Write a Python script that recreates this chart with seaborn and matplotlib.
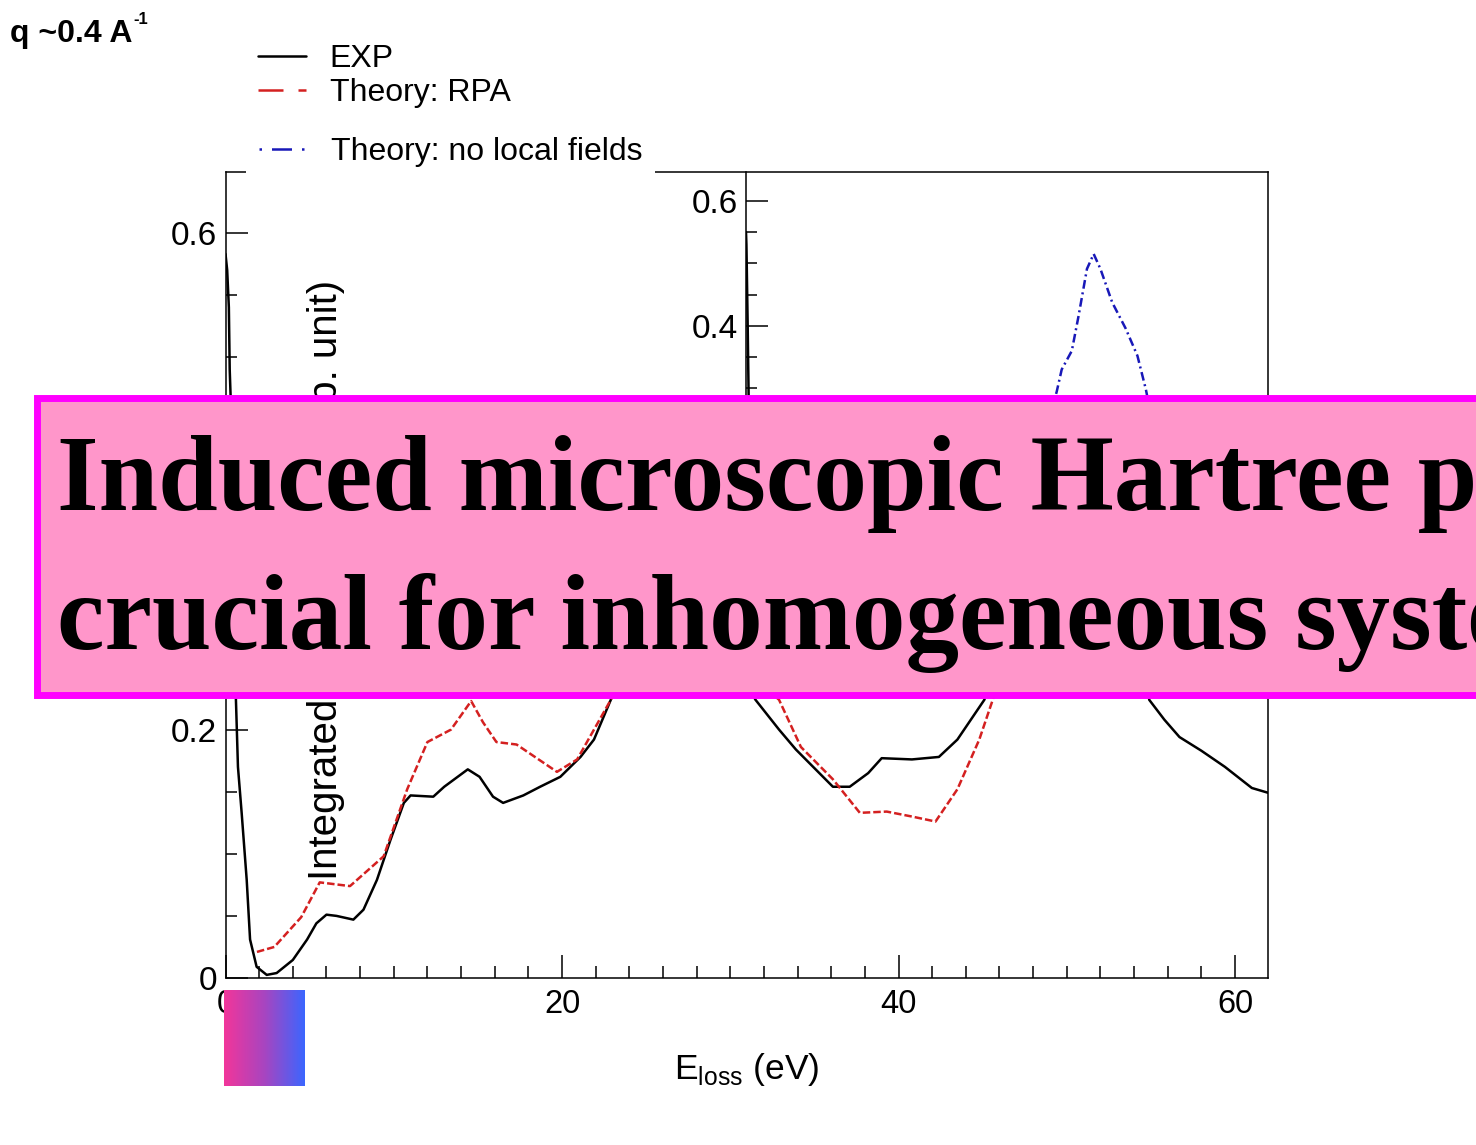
import numpy as np
import pandas as pd
import matplotlib
matplotlib.use("Agg")
import matplotlib.pyplot as plt
import seaborn as sns
from matplotlib.lines import Line2D
from matplotlib.patches import Rectangle
from matplotlib.ticker import MultipleLocator
from matplotlib.colors import LinearSegmentedColormap

# ---- data (E_loss in eV, intensity in arb. units) ----
exp_x = [0.0, 0.1, 0.2, 0.25, 0.3, 0.45, 0.62, 0.74, 0.96, 1.26, 1.46, 1.85, 2.45, 3.04,
         4.0, 4.85, 5.4, 6.0, 6.6, 7.6, 8.2, 9.0, 9.8, 10.6, 11.0, 12.35, 13.0, 14.4,
         15.1, 15.9, 16.5, 17.7, 18.7, 19.9, 21.1, 21.9, 22.9, 24.0, 25.5, 27.0, 28.5,
         30.0, 31.5, 32.9, 33.9, 36.1, 37.1, 38.2, 39.0, 40.8, 42.4, 43.5, 44.3, 45.1,
         46.5, 48.0, 50.0, 52.0, 53.5, 54.5, 54.9, 55.8, 56.7, 58.0, 59.4, 61.0, 62.0]
exp_y = [0.583, 0.57, 0.54, 0.49, 0.47, 0.30, 0.224, 0.17, 0.133, 0.079, 0.031, 0.009, 0.0025, 0.004,
         0.0145, 0.031, 0.044, 0.051, 0.05, 0.047, 0.055, 0.079, 0.111, 0.141, 0.147, 0.146, 0.154, 0.168,
         0.162, 0.146, 0.141, 0.147, 0.154, 0.162, 0.178, 0.192, 0.224, 0.27, 0.31, 0.33, 0.30,
         0.26, 0.224, 0.20, 0.184, 0.154, 0.154, 0.165, 0.177, 0.176, 0.178, 0.192, 0.208, 0.224,
         0.28, 0.34, 0.40, 0.42, 0.38, 0.30, 0.224, 0.208, 0.194, 0.183, 0.170, 0.153, 0.149]

rpa_x = [1.87, 2.9, 4.5, 5.6, 7.4, 9.4, 10.8, 12.0, 13.4, 14.6, 15.3, 16.1, 17.3, 19.7,
         20.9, 22.9, 24.5, 26.0, 27.5, 29.0, 30.5, 32.0, 32.9, 34.2, 36.1, 37.7, 39.3,
         40.8, 42.2, 43.5, 44.8, 45.6, 47.0, 48.5, 49.5]
rpa_y = [0.021, 0.025, 0.049, 0.077, 0.074, 0.098, 0.152, 0.19, 0.20, 0.223, 0.206, 0.19, 0.188, 0.166,
         0.176, 0.224, 0.27, 0.30, 0.31, 0.29, 0.26, 0.235, 0.224, 0.186, 0.160, 0.133, 0.134,
         0.130, 0.126, 0.152, 0.192, 0.224, 0.30, 0.36, 0.38]

nlf_x = [46.0, 47.5, 48.5, 49.4, 49.7, 50.3, 50.7, 51.2, 51.6, 52.0, 52.7, 53.5, 54.2, 54.7, 55.5, 56.5]
nlf_y = [0.30, 0.38, 0.43, 0.472, 0.49, 0.505, 0.533, 0.571, 0.583, 0.571, 0.544, 0.523, 0.501, 0.474, 0.42, 0.33]

# small overlaid copy of the panel (only its left edge shows)
inset_x = [0.0, 0.05, 0.12, 0.2, 0.3, 0.45]
inset_y = [0.55, 0.53, 0.47, 0.40, 0.30, 0.15]

legend_labels = ["EXP", "Theory: RPA", "Theory: no local fields"]
x_ticks = [0, 20, 40, 60]
y_ticks = [0, 0.2, 0.4, 0.6]
main_ylabels = ["0", "0.2", "", "0.6"]      # 0.4 sits under the call-out box
inset_ylabels = ["", "", "0.4", "0.6"]      # lower labels sit under the box

sns.set_theme(style="ticks")
plt.rcParams["font.family"] = ["Liberation Sans", "DejaVu Sans"]
plt.rcParams["axes.edgecolor"] = "black"
plt.rcParams["xtick.color"] = "black"
plt.rcParams["ytick.color"] = "black"
plt.rcParams["text.color"] = "black"
plt.rcParams["axes.labelcolor"] = "black"

W, H = 1476, 1145
fig = plt.figure(figsize=(W / 100, H / 100), dpi=100)
fig.patch.set_facecolor("white")

def fx(px):
    return px / W

def fy(py):
    return (H - py) / H

ax = fig.add_axes([fx(225.5), fy(978), fx(1268) - fx(225.5), fy(172) - fy(978)])
ax.set_facecolor("white")

sns.lineplot(x=exp_x, y=exp_y, ax=ax, color="black", linewidth=1.8, sort=False, estimator=None)
sns.lineplot(x=rpa_x, y=rpa_y, ax=ax, color="#D42020", linewidth=1.8, sort=False, estimator=None,
             linestyle=(0, (3, 1.2)))
sns.lineplot(x=nlf_x, y=nlf_y, ax=ax, color="#1818B8", linewidth=1.8, sort=False, estimator=None,
             linestyle=(0, (3.5, 1.5, 0.8, 1.5)))

ax.set_xlim(0, 61.96)
ax.set_ylim(0, 0.649)
ax.set_xticks(x_ticks)
ax.set_yticks(y_ticks)
ax.set_yticklabels(main_ylabels)
ax.xaxis.set_minor_locator(MultipleLocator(2))
ax.yaxis.set_minor_locator(MultipleLocator(0.05))
ax.tick_params(which="both", direction="in", top=False, right=False, width=1.1)
ax.tick_params(axis="y", which="major", length=16, labelsize=24, pad=6)
ax.tick_params(axis="y", which="minor", length=8)
ax.tick_params(axis="x", which="major", length=16.5, labelsize=23.5, pad=8)
ax.tick_params(axis="x", which="minor", length=8.5)
for s in ax.spines.values():
    s.set_linewidth(1.1)
    s.set_color("black")

ax.set_xlabel(r"E$_{\mathregular{loss}}$ (eV)", fontsize=25.5, labelpad=22)
ax.set_ylabel("Integrated loss function (arb. unit)", fontsize=29)
ax.yaxis.set_label_coords(0.1146, 0.494)

# legend in two blocks, as in the figure
h_exp = Line2D([], [], color="black", linewidth=1.8)
h_rpa = Line2D([], [], color="#D42020", linewidth=1.8, linestyle=(0, (10, 6)))
h_nlf = Line2D([], [], color="#1818B8", linewidth=1.8, linestyle=(0, (1, 4, 8, 4)))
leg1 = ax.legend([h_exp, h_rpa], legend_labels[:2], loc="center left",
                 bbox_to_anchor=(fx(258), fy(76)), bbox_transform=fig.transFigure,
                 frameon=False, fontsize=23, handlelength=1.5, handletextpad=0.75,
                 labelspacing=0.14, borderpad=0, borderaxespad=0)
ax.add_artist(leg1)
leg2 = ax.legend([h_nlf], legend_labels[2:], loc="center left",
                 bbox_to_anchor=(fx(246), fy(152)), bbox_transform=fig.transFigure,
                 frameon=True, fancybox=False, framealpha=1, facecolor="white",
                 edgecolor="none", fontsize=23, handlelength=1.5, handletextpad=0.75,
                 borderpad=0.4, borderaxespad=0)

# second, overlaid y axis
ax2 = fig.add_axes([fx(746), fy(576), fx(1268) - fx(746), fy(172) - fy(576)])
ax2.patch.set_alpha(0)
sns.lineplot(x=inset_x, y=inset_y, ax=ax2, color="black", linewidth=1.8, sort=False, estimator=None)
ax2.set_xlim(0, 62)
ax2.set_ylim(0, 0.646)
for k in ["top", "right", "bottom"]:
    ax2.spines[k].set_visible(False)
ax2.spines["left"].set_linewidth(1.1)
ax2.spines["left"].set_color("black")
ax2.set_xticks([])
ax2.set_yticks(y_ticks)
ax2.set_yticklabels(inset_ylabels)
ax2.yaxis.set_minor_locator(MultipleLocator(0.05))
ax2.tick_params(which="both", direction="in", width=1.1)
ax2.tick_params(axis="y", which="major", length=16, labelsize=24, pad=6)
ax2.tick_params(axis="y", which="minor", length=8)
ax2.set_xlabel("")
ax2.set_ylabel("")

# momentum transfer label
fig.text(fx(10), fy(42), "q ~0.4 A", fontsize=23, fontweight="bold", va="baseline", ha="left")
fig.text(fx(133), fy(24), "-1", fontsize=12, fontweight="bold", va="baseline", ha="left")

# pink call-out box
box = Rectangle((fx(36.5), fy(694.5)), 1.2, fy(397.5) - fy(694.5), transform=fig.transFigure,
                facecolor="#FF96CA", edgecolor="#FF00FF", linewidth=5, zorder=10)
fig.add_artist(box)
fig.text(fx(57), fy(510), "Induced microscopic Hartree potentials are", fontsize=77,
         fontfamily="Liberation Serif", fontweight="bold", va="baseline", ha="left", zorder=11)
fig.text(fx(57), fy(649), "crucial for inhomogeneous systems", fontsize=77,
         fontfamily="Liberation Serif", fontweight="bold", va="baseline", ha="left", zorder=11)

# gradient swatch
gax = fig.add_axes([fx(224), fy(1086), fx(305) - fx(224), fy(990) - fy(1086)])
gax.set_zorder(6)
cmap = LinearSegmentedColormap.from_list("pb", ["#F2369A", "#A845C0", "#3B66FF"])
gax.imshow(np.linspace(0, 1, 256)[None, :], aspect="auto", cmap=cmap)
gax.axis("off")

fig.savefig("out.png", dpi=100)
